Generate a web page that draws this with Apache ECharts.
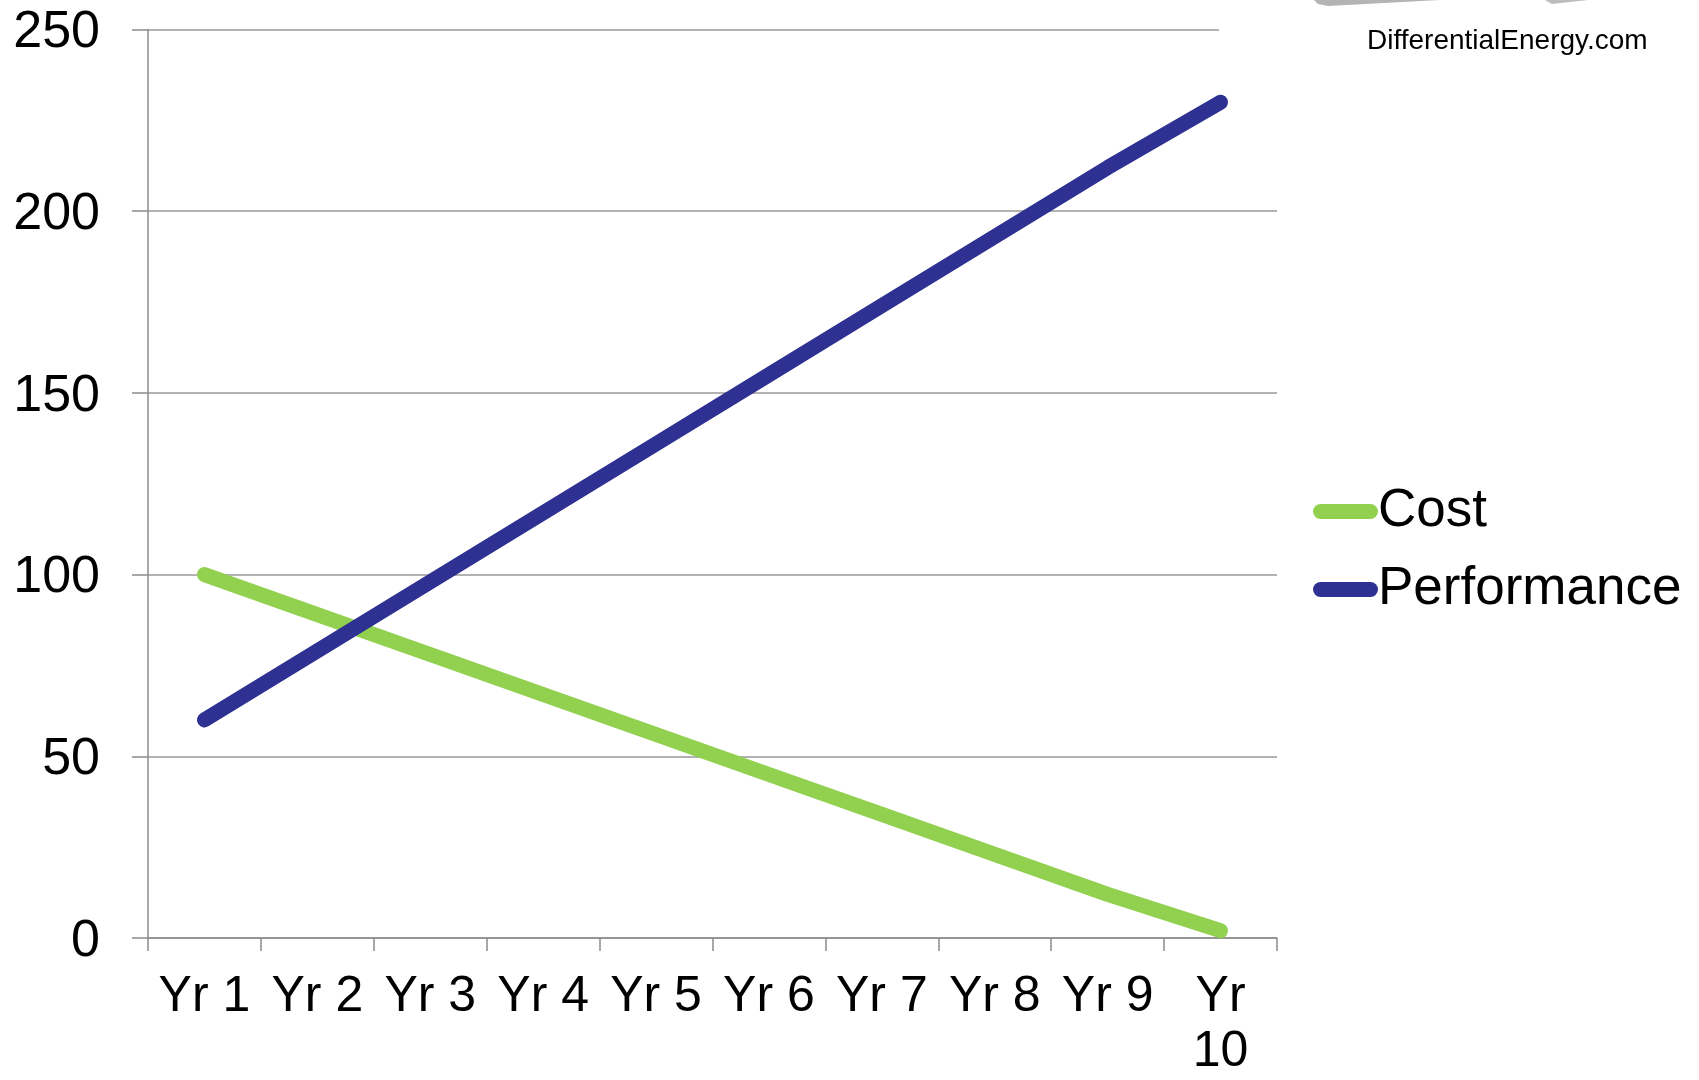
<!DOCTYPE html>
<html>
<head>
<meta charset="utf-8">
<script src="https://cdn.jsdelivr.net/npm/echarts@6/dist/echarts.min.js"></script>
<style>
html,body{margin:0;padding:0;background:#fff;}
#c{width:1699px;height:1080px;}
</style>
</head>
<body>
<div id="c"></div>
<script>
const categories = ['Yr 1','Yr 2','Yr 3','Yr 4','Yr 5','Yr 6','Yr 7','Yr 8','Yr 9','Yr\n10'];
const costValues = [100, 89, 78, 67, 56, 45, 34, 23, 12, 2];
const performanceValues = [60, 79, 98, 117, 136, 155, 174, 193, 212, 230];
const yTicks = [0, 50, 100, 150, 200, 250];

const FONT = '"Liberation Sans", Arial, sans-serif';
const chart = echarts.init(document.getElementById('c'));
const pill = 'path://M7.5,0 L57.5,0 A7.5,7.5 0 0 1 57.5,15 L7.5,15 A7.5,7.5 0 0 1 7.5,0 Z';

chart.setOption({
  animation: false,
  backgroundColor: '#ffffff',
  grid: { left: 148, right: 422, top: 27, bottom: 133, containLabel: false },
  xAxis: {
    type: 'category',
    data: categories,
    boundaryGap: true,
    axisLine: { show: true, lineStyle: { color: '#8c8c8c', width: 1.5 } },
    axisTick: { show: true, length: 13, alignWithLabel: false, lineStyle: { color: '#8c8c8c', width: 1.5 } },
    axisLabel: { color: '#000', fontSize: 50, fontFamily: FONT, margin: 32, lineHeight: 55, interval: 0 },
    splitLine: { show: false }
  },
  yAxis: {
    type: 'value',
    min: yTicks[0],
    max: yTicks[yTicks.length - 1],
    interval: 50,
    axisLine: { show: true, lineStyle: { color: '#8c8c8c', width: 1.5 } },
    axisTick: { show: true, length: 16, inside: false, lineStyle: { color: '#8c8c8c', width: 1.5 } },
    axisLabel: {
      margin: 48,
      formatter: '{v|{value}}',
      rich: { v: { color: '#000', fontSize: 52, fontFamily: FONT, lineHeight: 52, padding: [7, 0, 0, 0] } }
    },
    splitLine: { show: true, lineStyle: { color: '#999999', width: 1.5 } }
  },
  legend: {
    orient: 'vertical',
    left: 1308,
    top: 480,
    itemWidth: 65,
    itemHeight: 15,
    itemGap: 25,
    icon: pill,
    textStyle: { color: '#000', fontSize: 53, fontFamily: FONT, lineHeight: 50, padding: [0, 0, 0, -5] },
    data: ['Cost', 'Performance']
  },
  graphic: [
    { type: 'rect', z: 100, shape: { x: 1219, y: 20, width: 70, height: 14 }, style: { fill: '#ffffff' } },
    { type: 'polygon', z: 100, shape: { points: [[1314, 0], [1440, 0], [1328, 6], [1318, 4]] }, style: { fill: '#b4b4b4' } },
    { type: 'polygon', z: 100, shape: { points: [[1545, 0], [1588, 0], [1552, 4]] }, style: { fill: '#bcbcbc' } },
    { type: 'text', z: 100, left: 1367, top: 27, style: { text: 'DifferentialEnergy.com', fill: '#000', font: '28px ' + FONT } }
  ],
  series: [
    {
      name: 'Cost', type: 'line', data: costValues, symbol: 'none', smooth: false,
      lineStyle: { color: '#92D050', width: 15, cap: 'round', join: 'round' },
      itemStyle: { color: '#92D050' }, z: 3
    },
    {
      name: 'Performance', type: 'line', data: performanceValues, symbol: 'none', smooth: false,
      lineStyle: { color: '#2E3192', width: 15, cap: 'round', join: 'round' },
      itemStyle: { color: '#2E3192' }, z: 4
    }
  ]
});
</script>
</body>
</html>
